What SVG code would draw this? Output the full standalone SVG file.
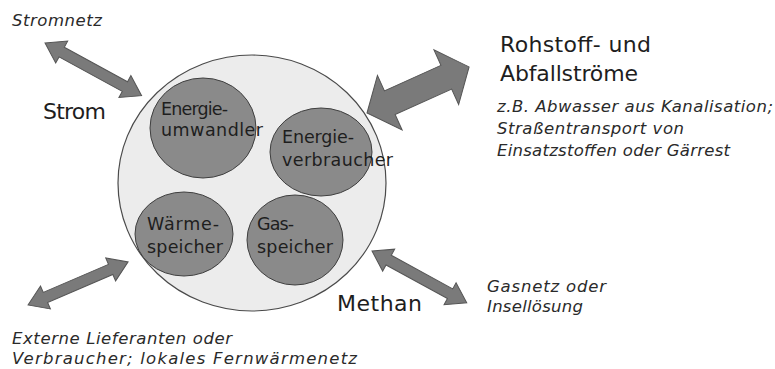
<svg xmlns="http://www.w3.org/2000/svg" width="775" height="369" viewBox="0 0 775 369">
<style>
.t{font-family:"DejaVu Sans","Liberation Sans",sans-serif;fill:#1e1e1e}
.big{font-size:22px}
.node{font-size:17.5px}
.it{font-size:16.5px;font-style:italic;fill:#2a2a2a}
.arr{fill:#7a7a7a;stroke:#555;stroke-width:1}
.sub{fill:#8a8a8a;stroke:#3f3f3f;stroke-width:1}
</style>
<rect width="775" height="369" fill="#ffffff"/>
<g id="system">
<ellipse cx="252" cy="183" rx="134" ry="128" fill="#ececec" stroke="#4a4a4a" stroke-width="1.2"/>
</g>
<g id="energieumwandler">
<ellipse class="sub" cx="203" cy="128" rx="53" ry="50"/>
<text class="t node" x="161" y="115" textLength="67">Energie-</text>
<text class="t node" x="161" y="136" textLength="102">umwandler</text>
</g>
<g id="energieverbraucher">
<ellipse class="sub" cx="321" cy="152" rx="51" ry="44"/>
<text class="t node" x="282" y="143" textLength="72">Energie-</text>
<text class="t node" x="282" y="166" textLength="111">verbraucher</text>
</g>
<g id="waermespeicher">
<ellipse class="sub" cx="184" cy="234" rx="49" ry="42"/>
<text class="t node" x="147" y="230" textLength="72">Wärme-</text>
<text class="t node" x="147" y="253" textLength="76">speicher</text>
</g>
<g id="gasspeicher">
<ellipse class="sub" cx="295" cy="240" rx="48" ry="45"/>
<text class="t node" x="257" y="230" textLength="37">Gas-</text>
<text class="t node" x="257" y="253" textLength="76">speicher</text>
</g>
<g id="connectors">
<path class="arr" transform="translate(45,43) rotate(28.6)" d="M0,0 L19,-12.5 L19,-5.5 L91,-5.5 L91,-12.5 L110,0 L91,12.5 L91,5.5 L19,5.5 L19,12.5 Z"/>
<path class="arr" transform="translate(367,113) rotate(-24.3)" d="M0,0 L25,-30 L25,-13 L87,-13 L87,-30 L112,0 L87,30 L87,13 L25,13 L25,30 Z"/>
<path class="arr" transform="translate(28,305) rotate(-23.3)" d="M0,0 L19,-12.5 L19,-5.5 L90,-5.5 L90,-12.5 L109,0 L90,12.5 L90,5.5 L19,5.5 L19,12.5 Z"/>
<path class="arr" transform="translate(372,251) rotate(28.7)" d="M0,0 L19,-12.5 L19,-5.5 L89,-5.5 L89,-12.5 L108,0 L89,12.5 L89,5.5 L19,5.5 L19,12.5 Z"/>
</g>
<g id="stromnetz">
<text class="t it" x="12" y="26" textLength="90">Stromnetz</text>
</g>
<g id="strom">
<text class="t big" x="43" y="119" textLength="63">Strom</text>
</g>
<g id="rohstoff">
<text class="t big" x="500" y="52" textLength="151">Rohstoff- und</text>
<text class="t big" x="500" y="81" textLength="138">Abfallströme</text>
<text class="t it" x="497" y="112" textLength="276">z.B. Abwasser aus Kanalisation;</text>
<text class="t it" x="497" y="134" textLength="187">Straßentransport von</text>
<text class="t it" x="497" y="156" textLength="233">Einsatzstoffen oder Gärrest</text>
</g>
<g id="methan">
<text class="t big" x="337" y="311" textLength="85">Methan</text>
</g>
<g id="gasnetz">
<text class="t it" x="487" y="292" textLength="119">Gasnetz oder</text>
<text class="t it" x="487" y="312" textLength="96">Insellösung</text>
</g>
<g id="extern">
<text class="t it" x="12" y="344" textLength="220">Externe Lieferanten oder</text>
<text class="t it" x="12" y="364" textLength="345">Verbraucher; lokales Fernwärmenetz</text>
</g>
</svg>
